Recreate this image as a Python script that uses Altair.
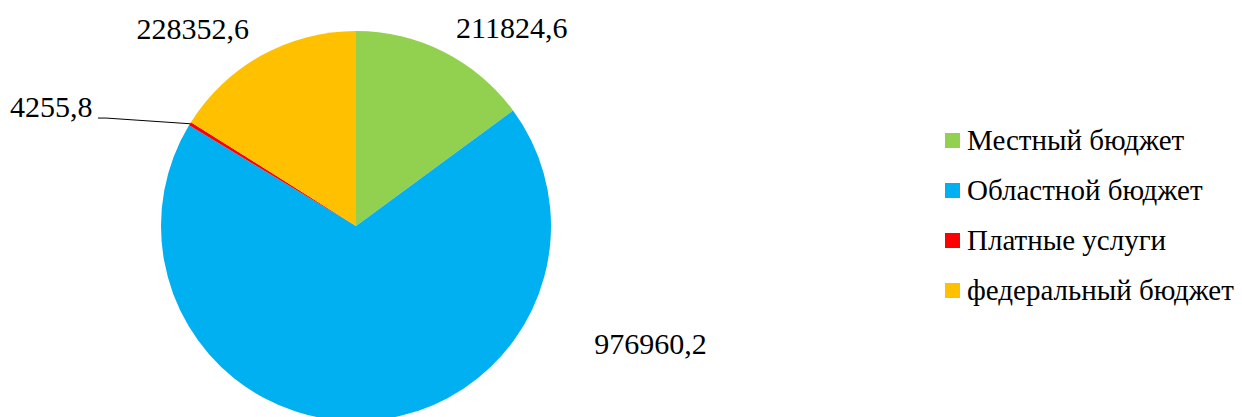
import altair as alt
import pandas as pd

categories = ["Местный бюджет", "Областной бюджет", "Платные услуги", "федеральный бюджет"]
values = [211824.6, 976960.2, 4255.8, 228352.6]
colors = ["#92D050", "#00B0F0", "#FF0000", "#FFC000"]
order = [1, 2, 3, 4]

df = pd.DataFrame({"category": categories, "value": values, "order": order})

CX, CY, R = 348, 218, 195
LR = 230
FONT = "'Liberation Serif', 'Times New Roman', Tinos, 'DejaVu Serif', serif"
FS = 30

# label offsets from the mid-angle anchor (style, Excel-like placement)
offsets = {
    "Местный бюджет": (52, 8),
    "Областной бюджет": (284, -111),
    "Платные услуги": (-109, 3),
    "федеральный бюджет": (-52, 5),
}

color = alt.Color(
    "category:N",
    scale=alt.Scale(domain=categories, range=colors),
    legend=alt.Legend(
        orient="none", legendX=927, legendY=118, title=None,
        symbolType="square", symbolSize=225, symbolStrokeWidth=0,
        symbolOffset=3,
        labelFont=FONT, labelFontSize=29, labelColor="black",
        labelLimit=500, labelOffset=0, rowPadding=20, padding=0,
    ),
)

pie = alt.Chart(df).mark_arc(radius=R).encode(
    theta=alt.Theta("value:Q", stack=True),
    color=color,
    order=alt.Order("order:Q"),
    x=alt.value(CX),
    y=alt.value(CY),
)


def prep(ch):
    return ch.transform_joinaggregate(
        total="sum(value)"
    ).transform_window(
        cum="sum(value)", sort=[alt.SortField("order")], frame=[None, 0]
    ).transform_calculate(
        mid="(datum.cum - datum.value/2) / datum.total * 2 * PI",
        label="replace(format(datum.value, '.1f'), '.', ',')",
    )


layers = [pie]
for cat, (dx, dy) in offsets.items():
    t = prep(alt.Chart(df)).transform_filter(
        alt.datum.category == cat
    ).mark_text(
        radius=LR, dx=dx, dy=dy, font=FONT, fontSize=FS, color="black",
        align="center", baseline="middle",
    ).encode(
        theta=alt.Theta("mid:Q", scale=None),
        x=alt.value(CX),
        y=alt.value(CY),
        text="label:N",
    )
    layers.append(t)

leader_base = prep(alt.Chart(df)).transform_filter(
    alt.datum.category == "Платные услуги"
).transform_calculate(
    ex=f"{CX} + {R} * sin(datum.mid)",
    ey=f"{CY} - {R} * cos(datum.mid)",
).transform_calculate(
    sx="datum.ex - 84",
    sy="datum.ey - 5.7",
    hx="datum.ex - 92",
)

leader1 = leader_base.mark_rule(color="black", strokeWidth=1).encode(
    x=alt.X("ex:Q", scale=None),
    y=alt.Y("ey:Q", scale=None),
    x2="sx:Q",
    y2="sy:Q",
)
leader2 = leader_base.mark_rule(color="black", strokeWidth=1).encode(
    x=alt.X("sx:Q", scale=None),
    y=alt.Y("sy:Q", scale=None),
    x2="hx:Q",
    y2="sy:Q",
)
layers += [leader1, leader2]

chart = alt.layer(*layers).properties(
    width=1226,
    height=409,
    autosize=alt.AutoSizeParams(type="none"),
    padding=0,
).configure_view(stroke=None).configure_axis(grid=False)

chart.save("out.html", embed_options={"renderer": "svg", "actions": False})
